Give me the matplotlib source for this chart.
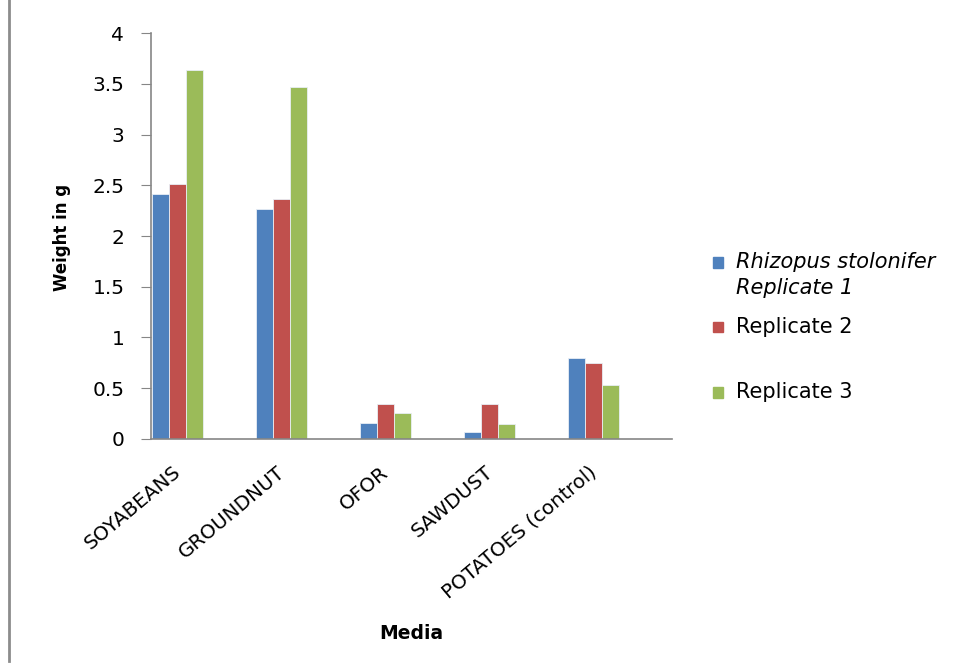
import numpy as np
import matplotlib.pyplot as plt
import matplotlib.transforms as mtransforms
from matplotlib.patches import Rectangle
from matplotlib.lines import Line2D

plt.rcParams['font.family'] = ['DejaVu Sans']

media = ['SOYABEANS', 'GROUNDNUT', 'OFOR', 'SAWDUST', 'POTATOES (control)']
rep1 = [2.42, 2.27, 0.16, 0.07, 0.80]
rep2 = [2.51, 2.37, 0.34, 0.34, 0.75]
rep3 = [3.64, 3.47, 0.26, 0.15, 0.53]
colors = ['#4F81BD', '#C0504D', '#9BBB59']

fig = plt.figure(figsize=(9.54, 6.66), dpi=100)
ax = fig.add_axes([0.158, 0.341, 0.546, 0.609])

x = np.arange(len(media))
w = 0.163
for k, vals in enumerate([rep1, rep2, rep3]):
    ax.bar(x + (k - 1) * w, vals, w, color=colors[k],
           edgecolor='#e8eef5', linewidth=0.6)

ax.set_xlim(-0.255, 4.755)
ax.set_ylim(0, 4)
ax.set_yticks(np.arange(0, 4.01, 0.5))
ax.set_yticklabels(['0', '0.5', '1', '1.5', '2', '2.5', '3', '3.5', '4'],
                   fontsize=14.5)
ax.set_xticks(x)
ax.set_xticklabels(media, rotation=40, ha='right', va='top',
                   rotation_mode='anchor', fontsize=14.3)
ax.tick_params(axis='x', length=0, pad=17)
ax.tick_params(axis='y', length=7, color='#868686', pad=12)

# nudge category labels a little to the left
shift = mtransforms.ScaledTranslation(-5 / 100, 0, fig.dpi_scale_trans)
for lbl in ax.get_xticklabels():
    lbl.set_transform(lbl.get_transform() + shift)

for side in ['top', 'right']:
    ax.spines[side].set_visible(False)
for side in ['left', 'bottom']:
    ax.spines[side].set_color('#868686')
    ax.spines[side].set_linewidth(1.2)

fig.text(0.065, 0.644, 'Weight in g', rotation=90, fontsize=12,
         fontweight='bold', ha='center', va='center')
fig.text(0.431, 0.049, 'Media', fontsize=13.5, fontweight='bold',
         ha='center', va='center')

# legend on the right
leg_y = [0.606, 0.509, 0.411]
for k in range(3):
    fig.patches.append(Rectangle((0.747, leg_y[k] - 0.008), 0.011, 0.016,
                                 transform=fig.transFigure, color=colors[k]))
fig.text(0.771, 0.606, 'Rhizopus stolonifer', fontsize=15, style='italic',
         va='center')
fig.text(0.771, 0.568, 'Replicate 1', fontsize=15, style='italic',
         va='center')
fig.text(0.771, 0.509, 'Replicate 2', fontsize=15, va='center')
fig.text(0.771, 0.411, 'Replicate 3', fontsize=15, va='center')

# border line on the left edge
fig.add_artist(Line2D([0.009, 0.009], [0.008, 1.0], transform=fig.transFigure,
                      color='#8c8c8c', linewidth=2))

fig.savefig('out.png', dpi=100)
